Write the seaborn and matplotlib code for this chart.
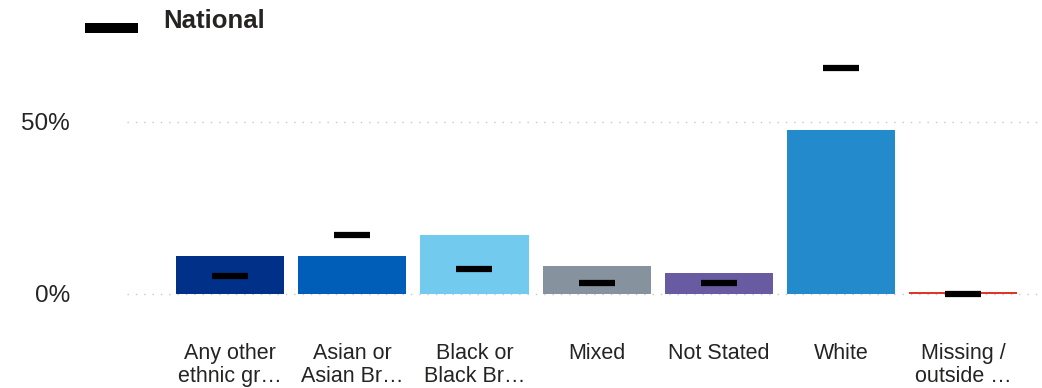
import matplotlib
matplotlib.use("Agg")
import matplotlib.pyplot as plt
from matplotlib.lines import Line2D
import seaborn as sns
import pandas as pd

categories = ["Any other\nethnic gr\u2026", "Asian or\nAsian Br\u2026", "Black or\nBlack Br\u2026",
              "Mixed", "Not Stated", "White", "Missing /\noutside \u2026"]
local_values = [11.0, 11.0, 17.2, 8.1, 6.1, 47.7, 0.7]
national_values = [5.2, 17.2, 7.3, 3.2, 3.2, 65.7, 0.0]
bar_colors = ["#003087", "#005EB8", "#72CBEE", "#86929D", "#695BA2", "#238ACB", "#E0362A"]
ytick_values = [0, 50]
ytick_labels = ["0%", "50%"]
legend_label = "National"

df = pd.DataFrame({"category": categories, "local": local_values, "national": national_values})

sns.set_theme(style="white")
plt.rcParams['font.family'] = ['Liberation Sans', 'DejaVu Sans']
text_color = "#252423"

fig = plt.figure(figsize=(10.42, 3.88), dpi=100)
W, H = 1042, 388
y0_px, y50_px = 294, 122
ppu = (y0_px - y50_px) / 50.0
ymin, ymax = -2.0, 75.0
ax_bottom_px = y0_px - ymin * ppu
ax_top_px = y0_px - ymax * ppu
ax_left, ax_right = 127, 1040
ax = fig.add_axes([ax_left / W, 1 - ax_bottom_px / H, (ax_right - ax_left) / W,
                   (ax_bottom_px - ax_top_px) / H])

sns.barplot(data=df, x="category", y="local", hue="category", palette=bar_colors,
            legend=False, width=0.885, ax=ax, saturation=1)
for p in ax.patches:
    p.set_edgecolor("none")

ax.scatter(range(len(categories)), national_values, marker="_", s=640, linewidths=4.5,
           color="black", zorder=5)

ax.set_xlim(-0.845, 6.63)
ax.set_ylim(ymin, ymax)
ax.set_yticks(ytick_values)
ax.set_yticklabels(ytick_labels, fontsize=17.5, color=text_color)
ax.tick_params(axis="y", length=0, pad=41)
ax.tick_params(axis="x", length=0, pad=30, labelsize=15.5, labelcolor=text_color)
for lab in ax.get_xticklabels():
    lab.set_linespacing(1.15)
ax.set_xlabel("")
ax.set_ylabel("")
for y in ytick_values:
    ax.axhline(y, color="#c8c8c8", linestyle=(0, (1, 5)), linewidth=1, zorder=0)
for s in ax.spines.values():
    s.set_visible(False)
ax.grid(False)

# legend
fig.add_artist(Line2D([85 / W, 138 / W], [1 - 28 / H, 1 - 28 / H], color="black",
                      linewidth=7.2, solid_capstyle="butt", transform=fig.transFigure))
fig.text(163 / W, 1 - 28 / H, legend_label, fontsize=18.5, fontweight="bold",
         color=text_color, ha="left", va="baseline")

fig.savefig("out.png", dpi=100)
